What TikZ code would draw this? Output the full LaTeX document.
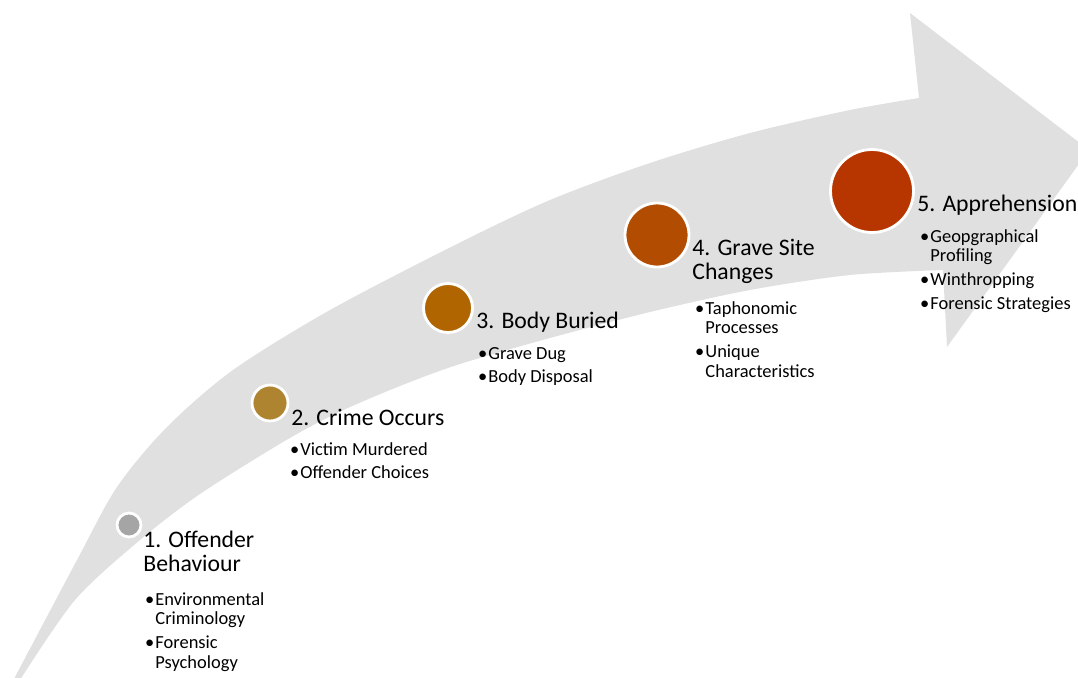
\documentclass[tikz,border=0pt]{standalone}
\usepackage{fontspec}
\setmainfont{Carlito}
\usepackage{tikz}
\usetikzlibrary{positioning}
\definecolor{arrowgray}{RGB}{224,224,224}
\definecolor{dotgray}{RGB}{165,165,165}
\definecolor{dotgold}{RGB}{174,132,49}
\definecolor{dotamber}{RGB}{176,101,0}
\definecolor{dotrust}{RGB}{178,76,0}
\definecolor{dotred}{RGB}{183,54,0}
\tikzset{
  stagedot/.style={circle, draw=white, fill=#1, inner sep=0pt,
    line width=1.6pt},
  stagetitle/.style={anchor=base west, inner sep=0pt,
    font=\fontsize{13.5}{14.2}\selectfont},
  stagelist/.style={anchor=base west, inner sep=0pt,
    font=\fontsize{10.5}{11.3}\selectfont}
}
\newcommand{\titlelines}[1]{\begin{tabular}[t]{@{}l@{}}#1\end{tabular}}
\newcommand{\bulletlines}[1]{\begin{tabular}[t]{@{}l@{}l@{}}#1\end{tabular}}
\newcommand{\dotmark}{\makebox[4.6pt][l]{\hspace{-1.3pt}\textbullet}}

\begin{document}
\begin{tikzpicture}[x=0.02cm, y=-0.02cm]
  \useasboundingbox (0,0) rectangle (1078,677);

  % Sweeping arrow
  \fill[arrowgray] (10,692)
    -- plot[smooth] coordinates {(15,677) (77,560) (117,487) (167,427) (233,370)
      (330,310) (455,245) (550,200) (650,163) (750,133) (850,110) (919,98)}
    -- (910,13) -- (1089,150) -- (947,347) -- (943,270)
    -- plot[smooth] coordinates {(943,270) (850,275) (750,290) (650,312) (550,338)
      (460,364) (400,386) (337,413) (283,442) (200,494) (140,540) (75,600) (20,680)}
    -- (18,692) -- cycle;

  % Stage dots
  \node[stagedot=dotgray, minimum size=0.48cm] (c1) at (129,525) {};
  \node[stagedot=dotgold, minimum size=0.72cm] (c2) at (270,403) {};
  \node[stagedot=dotamber, minimum size=0.98cm] (c3) at (448,308) {};
  \node[stagedot=dotrust, minimum size=1.28cm] (c4) at (657,235) {};
  \node[stagedot=dotred, minimum size=1.66cm] (c5) at (872,191) {};

  % Stage titles
  \node[stagetitle] (t1) at (143,547) {\titlelines{1. Offender\\Behaviour}};
  \node[stagetitle] (t2) at (291,425) {\titlelines{2. Crime Occurs}};
  \node[stagetitle] (t3) at (476,328) {\titlelines{3. Body Buried}};
  \node[stagetitle] (t4) at (692,255) {\titlelines{4. Grave Site\\Changes}};
  \node[stagetitle] (t5) at (917,211) {\titlelines{5. Apprehension}};

  % Stage details
  \node[stagelist] (b1) at (147,605) {\bulletlines{%
    \dotmark & Environmental\\ & Criminology\\[2.3pt]
    \dotmark & Forensic\\ & Psychology}};
  \node[stagelist] (b2) at (292,455) {\bulletlines{%
    \dotmark & Victim Murdered\\[2.3pt]
    \dotmark & Offender Choices}};
  \node[stagelist] (b3) at (480,359) {\bulletlines{%
    \dotmark & Grave Dug\\[2.3pt]
    \dotmark & Body Disposal}};
  \node[stagelist] (b4) at (697,314) {\bulletlines{%
    \dotmark & Taphonomic\\ & Processes\\[2.3pt]
    \dotmark & Unique\\ & Characteristics}};
  \node[stagelist] (b5) at (922,242) {\bulletlines{%
    \dotmark & Geopgraphical\\ & Profiling\\[2.3pt]
    \dotmark & Winthropping\\[2.3pt]
    \dotmark & Forensic Strategies}};
\end{tikzpicture}
\end{document}
